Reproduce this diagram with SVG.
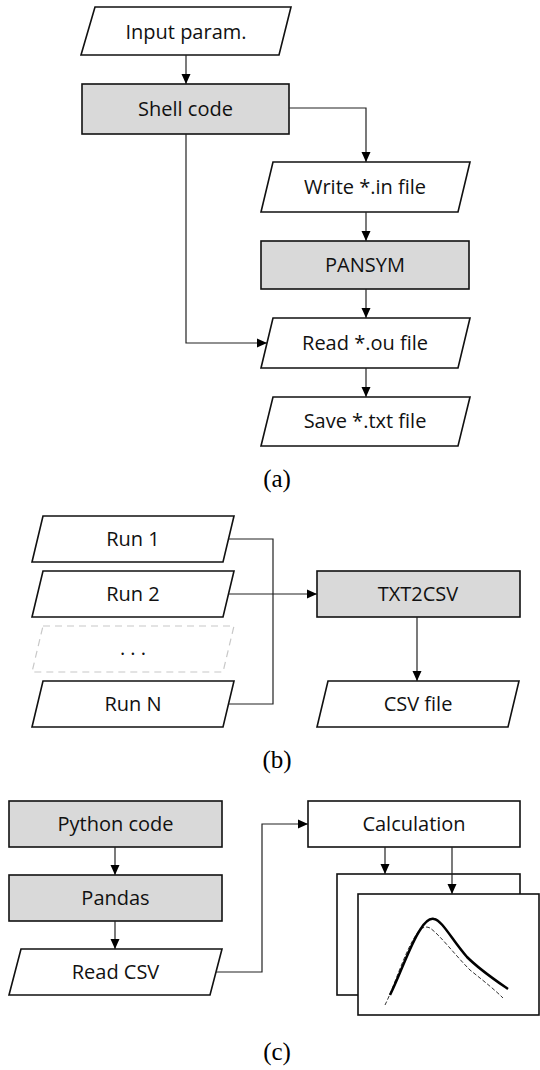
<svg xmlns="http://www.w3.org/2000/svg" width="540" height="1070" viewBox="0 0 540 1070">
<defs>
<marker id="arr" markerUnits="userSpaceOnUse" markerWidth="10" markerHeight="10" refX="10" refY="5" orient="auto">
<path d="M0,0.5 L10,5 L0,9.5 z" fill="#000"/>
</marker>
<style>
.box{fill:#fff;stroke:#111;stroke-width:1.6}
.gray{fill:#d9d9d9;stroke:#111;stroke-width:1.6}
.dash{fill:#fff;stroke:#c8c8c8;stroke-width:1.2;stroke-dasharray:7,5}
.t{font-family:"Open Sans","Noto Sans",sans-serif;font-size:20px;fill:#111;text-anchor:middle}
.lab{font-family:"Liberation Serif",serif;font-size:25px;fill:#000;text-anchor:middle}
.c{fill:none;stroke:#222;stroke-width:1.2}
.ca{fill:none;stroke:#222;stroke-width:1.2;marker-end:url(#arr)}
</style>
</defs>
<rect width="540" height="1070" fill="#fff"/>

<!-- (a) -->
<g id="input"><polygon class="box" points="95,7 291,7 279,55 81,55"/><text class="t" x="186" y="39">Input param.</text></g>
<g id="shell"><rect class="gray" x="82" y="84" width="207" height="50"/><text class="t" x="185.5" y="116">Shell code</text></g>
<g id="write"><polygon class="box" points="273,162 470,162 458,212 261,212"/><text class="t" x="365" y="194">Write *.in file</text></g>
<g id="pansym"><rect class="gray" x="261" y="241" width="208" height="48"/><text class="t" x="365" y="272">PANSYM</text></g>
<g id="read"><polygon class="box" points="273,318 470,318 458,368 261,368"/><text class="t" x="365" y="350">Read *.ou file</text></g>
<g id="save"><polygon class="box" points="273,397 470,397 458,446 261,446"/><text class="t" x="365" y="428">Save *.txt file</text></g>
<text class="lab" x="277" y="487">(a)</text>

<!-- (b) -->
<g id="run1"><polygon class="box" points="43,516 234,516 223,562 32,562"/><text class="t" x="133" y="546">Run 1</text></g>
<g id="run2"><polygon class="box" points="43,571 234,571 223,617 32,617"/><text class="t" x="133" y="601">Run 2</text></g>
<g id="dots"><polygon class="dash" points="43,626 234,626 223,672 32,672"/><text class="t" x="133" y="655">. . .</text></g>
<g id="runN"><polygon class="box" points="43,681 234,681 223,727 32,727"/><text class="t" x="133" y="711">Run N</text></g>
<g id="txt2csv"><rect class="gray" x="317" y="571" width="203" height="46"/><text class="t" x="418" y="601">TXT2CSV</text></g>
<g id="csv"><polygon class="box" points="328,681 519,681 508,727 317,727"/><text class="t" x="418" y="711">CSV file</text></g>
<text class="lab" x="277" y="768">(b)</text>

<!-- (c) -->
<g id="python"><rect class="gray" x="9" y="801" width="213" height="46"/><text class="t" x="115.5" y="831">Python code</text></g>
<g id="pandas"><rect class="gray" x="9" y="875" width="213" height="46"/><text class="t" x="115.5" y="905">Pandas</text></g>
<g id="readcsv"><polygon class="box" points="21,949 222,949 210,995 9,995"/><text class="t" x="115.5" y="979">Read CSV</text></g>
<g id="calc"><rect class="box" x="308" y="801" width="212" height="46"/><text class="t" x="414" y="831">Calculation</text></g>
<g id="plotback"><rect class="box" x="337" y="874" width="183" height="121"/></g>
<g id="plotfront"><rect class="box" x="358" y="894" width="181" height="121"/>
<path d="M385,1005 C395,985 405,950 418,932 C422,927 426,926 430,928 C440,935 455,955 470,970 C485,982 495,990 503,998" fill="none" stroke="#333" stroke-width="1" stroke-dasharray="4,2"/>
<path d="M390,995 C400,975 410,945 420,930 C426,920 430,918 434,919 C442,920 452,940 467,957 C480,970 495,980 508,989" fill="none" stroke="#000" stroke-width="2.5"/>
</g>
<text class="lab" x="277" y="1060">(c)</text>

<g id="connectors">
<path class="ca" d="M186,55 V84"/>
<path class="ca" d="M289,108 H366 V162"/>
<path class="ca" d="M366,212 V241"/>
<path class="ca" d="M366,289 V318"/>
<path class="ca" d="M186,134 V343 H267"/>
<path class="ca" d="M366,368 V397"/>
<path class="c" d="M229,539 H273 V704 H229"/>
<path class="ca" d="M229,594 H317"/>
<path class="ca" d="M417,617 V681"/>
<path class="ca" d="M115,847 V875"/>
<path class="ca" d="M115,921 V949"/>
<path class="ca" d="M216,972 H262 V824 H308"/>
<path class="ca" d="M385,847 V874"/>
<path class="ca" d="M452,847 V894"/>
</g>
</svg>
